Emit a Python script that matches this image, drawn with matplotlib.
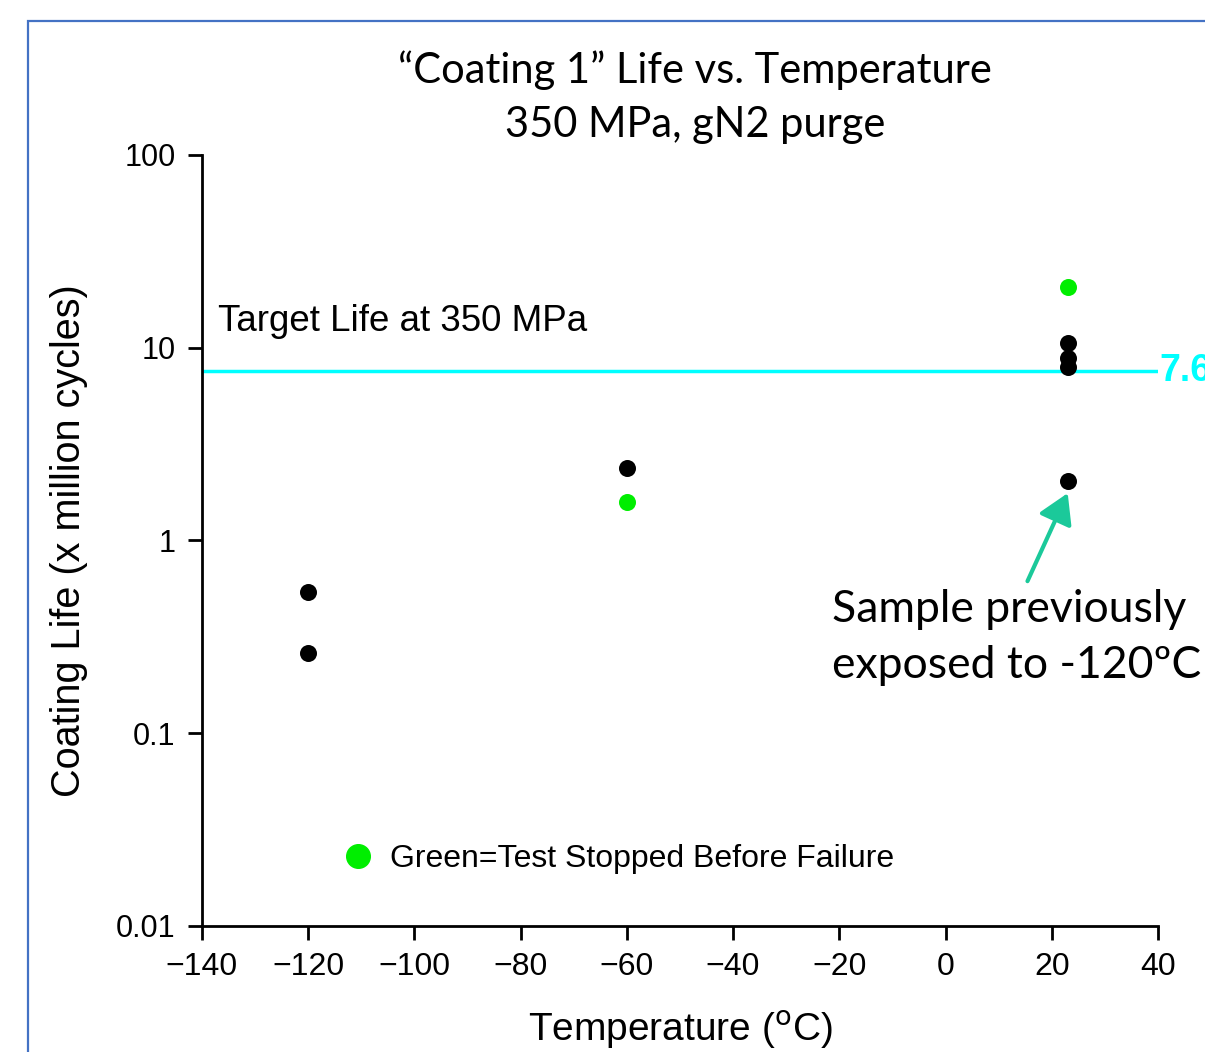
import matplotlib.pyplot as plt
from matplotlib.lines import Line2D
from matplotlib.patches import Rectangle

# failed samples (black) and test stopped before failure (green)
temps_black = [-120, -120, -60, 23, 23, 23, 23]
life_black = [0.54, 0.26, 2.38, 10.6, 8.85, 7.95, 2.04]
temps_green = [-60, 23]
life_green = [1.58, 20.7]
target_life = 7.6
x_ticks = [-140, -120, -100, -80, -60, -40, -20, 0, 20, 40]
y_ticks = [0.01, 0.1, 1, 10, 100]
y_tick_labels = ['0.01', '0.1', '1', '10', '100']

ARIAL = 'Liberation Sans'
CALIBRI = 'Lato'


def main():
    fig = plt.figure(figsize=(12.05, 10.52), dpi=100)
    ax = fig.add_axes([0.1676, 0.1198, 0.7934, 0.7329])

    # blue slide frame
    fig.patches.append(Rectangle((0.0232, -0.1), 1.2, 1.0803, transform=fig.transFigure,
                                 fill=False, edgecolor='#4472C4', linewidth=1.6))

    ax.axhline(target_life, color='#00FFFF', linewidth=2.5, zorder=1)
    ax.text(40.3, target_life, '7.6', color='#00FFFF', fontsize=27, fontweight='bold',
            family=ARIAL, va='center', ha='left', clip_on=False)

    ax.scatter(temps_black, life_black, s=150, color='black', zorder=3, linewidths=0)
    ax.scatter(temps_green, life_green, s=150, color='#00EE00', zorder=3, linewidths=0)

    ax.set_yscale('log')
    ax.set_xlim(-140, 40)
    ax.set_ylim(0.01, 100)
    ax.set_xticks(x_ticks)
    ax.set_xticklabels([('\u2212%d' % -t) if t < 0 else str(t) for t in x_ticks])
    ax.set_yticks(y_ticks)
    ax.set_yticklabels(y_tick_labels)
    ax.minorticks_off()
    ax.tick_params(direction='out', length=10, width=2)
    ax.tick_params(axis='x', labelsize=23, pad=9)
    ax.tick_params(axis='y', labelsize=22, pad=9)
    for lab in ax.get_xticklabels() + ax.get_yticklabels():
        lab.set_family(ARIAL)
    for side in ['top', 'right']:
        ax.spines[side].set_visible(False)
    for side in ['left', 'bottom']:
        ax.spines[side].set_linewidth(2)

    ax.set_xlabel('Temperature ($^{\\rm o}$C)', fontsize=28, family=ARIAL, labelpad=19)
    ax.set_ylabel('Coating Life (x million cycles)', fontsize=28.5, family=ARIAL, labelpad=20)

    fig.text(0.577, 0.952, '\u201cCoating 1\u201d Life vs. Temperature\n350 MPa, gN2 purge',
             ha='center', va='top', fontsize=30, family=CALIBRI, linespacing=1.5)

    ax.text(-137, 13.6, 'Target Life at 350 MPa', fontsize=26.5, family=ARIAL, va='center')

    ax.annotate('Sample previously\nexposed to -120\u00baC', xy=(23, 1.76), xytext=(-21.4, 0.56),
                fontsize=32, family=CALIBRI, va='top', ha='left', linespacing=1.45,
                arrowprops=dict(arrowstyle='-|>,head_length=0.45,head_width=0.27', color='#1BC99A',
                                lw=3, mutation_scale=40, shrinkA=4, shrinkB=0, relpos=(0.52, 1)))

    handle = Line2D([], [], marker='o', linestyle='none', color='#00EE00', markersize=17)
    ax.legend([handle], ['Green=Test Stopped Before Failure'], loc='lower left',
              bbox_to_anchor=(0.1, 0.03), frameon=False, handletextpad=0.0,
              prop={'family': ARIAL, 'size': 23})

    fig.savefig('out.png')


if __name__ == '__main__':
    main()
